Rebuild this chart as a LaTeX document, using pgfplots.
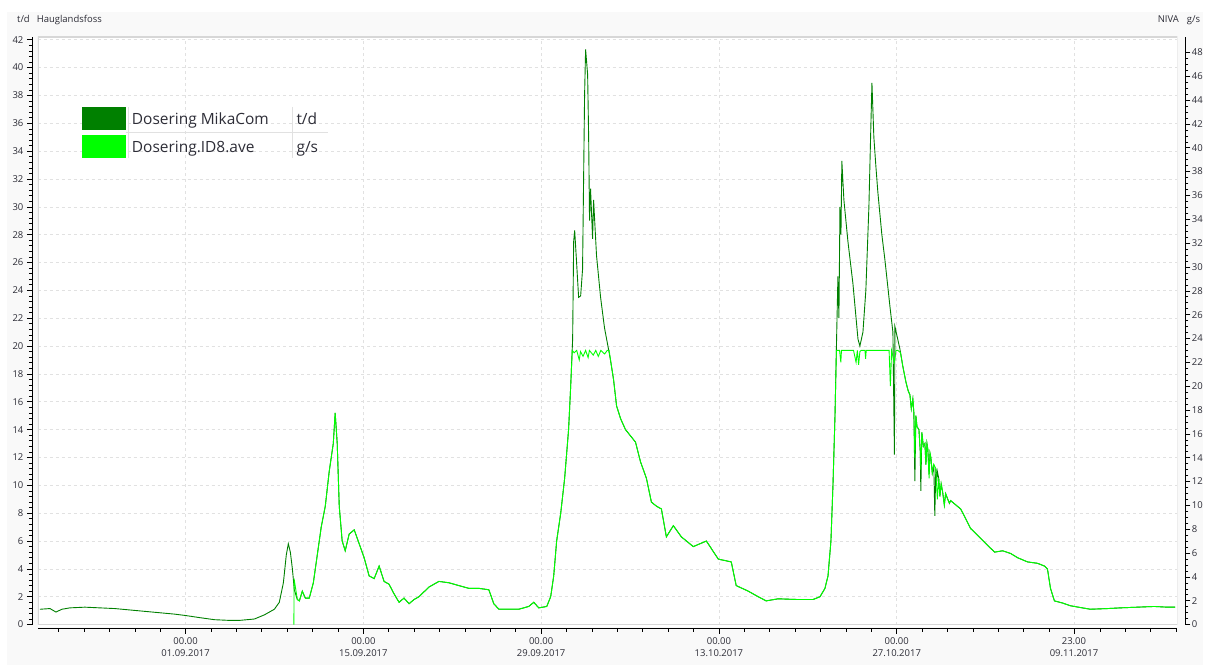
\documentclass[border=0pt]{standalone}
\usepackage{pgfplots}
\pgfplotsset{compat=1.18}
\usepackage{fontspec}
\setmainfont{Open Sans}
\definecolor{dgreen}{RGB}{0,128,0}
\definecolor{lgreen}{RGB}{0,255,0}
\definecolor{panel}{RGB}{249,249,249}
\definecolor{framegray}{RGB}{215,215,215}
\definecolor{gridgray}{RGB}{225,225,225}
\definecolor{txt}{RGB}{45,45,55}
\begin{document}
\begin{tikzpicture}[x=1pt,y=1pt]
\fill[white] (0,0) rectangle (1206,667);
\fill[panel] (7,0) rectangle (1206,655);
\fill[white] (38,39) rectangle (1180,630);
\node[anchor=base west,font=\fontsize{9.5}{11}\selectfont,text=txt,inner sep=0] at (17,644) {t/d\hspace{7pt}Hauglandsfoss};
\node[anchor=base east,font=\fontsize{9.5}{11}\selectfont,text=txt,inner sep=0] at (1203,644) {NIVA\hspace{8pt}g/s};
\begin{axis}[at={(38pt,41pt)},anchor=south west,scale only axis,
  width=1142pt,height=589pt,
  xmin=-11.63,xmax=78.1,ymin=0,ymax=42.2,
  axis x line*=bottom, axis y line*=left,
  axis x line shift=4pt, axis y line shift=6pt,
  axis line style={-,black,line width=0.6pt},
  xtick={0,14,28,42,56,69.96},
  xticklabels={{00.00\\01.09.2017},{00.00\\15.09.2017},{00.00\\29.09.2017},{00.00\\13.10.2017},{00.00\\27.10.2017},{23.00\\09.11.2017}},
  minor xtick={-10,-8,...,78},
  ytick={0,2,...,42},
  minor y tick num=4,
  tick align=outside,
  major tick length=5pt, minor tick length=3pt,
  tick style={black,line width=0.6pt},
  xmajorgrids, ymajorgrids,
  major grid style={gridgray,dashed,line width=0.6pt},
  /pgf/number format/assume math mode=true,
  ticklabel style={font=\fontsize{9.5}{11.5}\selectfont,text=txt},
  xticklabel style={align=center,yshift=-1pt},
  clip=true,
]
\draw[framegray,line width=1.2pt] (rel axis cs:0,0) rectangle (rel axis cs:1,1);
\addplot[dgreen,line width=0.9pt] coordinates {
(-11.47,1.1)(-10.68,1.15)(-10.21,0.9)(-9.74,1.1)(-9.11,1.2)(-7.93,1.25)(-6.76,1.2)(-5.58,1.15)(-4.40,1.05)(-3.22,0.95)(-2.04,0.85)(-0.86,0.75)(0,0.65)(1.10,0.5)(2.28,0.35)(3.46,0.3)(4.24,0.3)(5.42,0.4)(6.21,0.7)(6.99,1.1)(7.38,1.6)(7.70,3.0)(7.93,5.0)(8.09,5.8)(8.25,5.2)(8.41,4.0)(8.56,2.5)(8.80,1.8)(8.96,1.7)(9.19,2.4)(9.43,1.9)(9.74,1.9)(10.06,3.0)(10.37,5.0)(10.68,7.0)(11.00,8.5)(11.31,11.0)(11.63,13.0)(11.78,15.2)(11.94,13.0)(12.10,8.5)(12.33,6.0)(12.57,5.3)(12.88,6.5)(13.28,6.8)(13.67,5.8)(14.06,4.8)(14.45,3.5)(14.85,3.3)(15.24,4.2)(15.63,3.1)(16.02,2.9)(16.42,2.2)(16.81,1.6)(17.20,1.9)(17.60,1.5)(17.99,1.8)(18.38,2.0)(19.17,2.7)(19.95,3.1)(20.74,3.0)(21.52,2.8)(22.31,2.6)(23.10,2.6)(23.88,2.5)(24.27,1.5)(24.67,1.1)(25.45,1.1)(26.24,1.1)(27.02,1.3)(27.42,1.6)(27.81,1.2)(28.44,1.3)(28.75,2.0)(28.99,3.5)(29.22,6.0)(29.54,8.0)(29.85,10.5)(30.16,14.0)(30.32,17.0)(30.48,20.5)(30.56,27.5)(30.64,28.3)(30.79,26.0)(30.95,23.5)(31.11,23.6)(31.26,25.5)(31.42,38.0)(31.50,41.3)(31.66,39.5)(31.74,35.0)(31.81,29.0)(31.89,31.3)(32.05,27.7)(32.13,30.5)(32.21,29.1)(32.36,26.5)(32.68,23.5)(32.99,21.3)(33.30,19.8)(33.46,19.0)(33.70,17.6)(33.94,15.7)(34.25,14.8)(34.64,14.0)(35.43,13.1)(35.82,11.7)(36.29,10.5)(36.68,8.8)(37.08,8.5)(37.47,8.3)(37.86,6.3)(38.41,7.1)(39.04,6.3)(39.98,5.6)(41.01,6.0)(41.95,4.7)(42.97,4.5)(43.36,2.8)(44.31,2.4)(45.09,2.0)(45.72,1.7)(46.66,1.85)(48.23,1.8)(49.41,1.8)(49.96,2.0)(50.35,2.6)(50.59,3.5)(50.82,6.0)(50.98,10.0)(51.14,15.0)(51.30,22.0)(51.37,25.0)(51.45,22.0)(51.53,30.0)(51.61,28.0)(51.68,33.3)(51.84,30.5)(52.16,27.5)(52.55,24.5)(52.95,20.5)(53.10,20.0)(53.34,21.0)(53.57,24.0)(53.81,30.0)(53.97,36.0)(54.05,38.9)(54.20,35.0)(54.36,32.9)(54.52,31.0)(54.83,28.0)(55.07,26.2)(55.46,22.9)(55.70,21.0)(55.82,12.2)(55.86,21.4)(56.25,19.8)(56.49,18.5)(56.73,17.4)(56.9,16.8)(57.04,16.5)(57.15,15.5)(57.27,16.2)(57.35,15.2)(57.43,10.3)(57.51,15.0)(57.6,14.2)(57.75,14.0)(57.85,12.5)(57.90,9.6)(57.98,13.8)(58.1,12.8)(58.22,13.0)(58.3,11.5)(58.38,13.0)(58.45,12.6)(58.55,10.8)(58.62,12.3)(58.69,12.0)(58.8,10.9)(58.92,11.5)(59.00,7.8)(59.08,11.2)(59.15,10.2)(59.2,11.0)(59.31,10.5)(59.4,9.2)(59.5,10.1)(59.62,9.5)(59.75,8.6)(59.85,9.4)(60.02,9.0)(60.15,8.7)(60.25,8.9)(60.64,8.6)(61.04,8.3)(61.43,7.6)(61.82,6.9)(62.37,6.4)(62.92,5.9)(63.71,5.2)(64.34,5.3)(64.98,5.1)(65.52,4.8)(66.30,4.5)(67.09,4.4)(67.64,4.2)(67.87,4.0)(68.11,2.6)(68.42,1.7)(69.05,1.55)(69.68,1.35)(70.62,1.2)(71.25,1.1)(72.58,1.15)(73.61,1.2)(74.94,1.25)(76.28,1.3)(77.30,1.25)(77.93,1.25)
};
\end{axis}
\begin{axis}[at={(38pt,41pt)},anchor=south west,scale only axis,
  width=1142pt,height=589pt,
  xmin=-11.63,xmax=78.1,ymin=0,ymax=49.3,
  axis x line=none, axis y line*=right,
  axis y line shift=8pt,
  axis line style={-,black,line width=0.6pt},
  ytick={0,2,...,48},
  minor y tick num=3,
  tick align=outside,
  major tick length=5pt, minor tick length=3pt,
  tick style={black,line width=0.6pt},
  /pgf/number format/assume math mode=true,
  ticklabel style={font=\fontsize{9.5}{11.5}\selectfont,text=txt},
  yticklabel style={xshift=-2pt},
  clip=true,
]
\addplot[lgreen,line width=0.9pt] coordinates {
(8.53,0)(8.54,3.86)(8.80,2.10)(8.96,1.99)(9.19,2.80)(9.43,2.22)(9.74,2.22)(10.06,3.51)(10.37,5.84)(10.68,8.18)(11.00,9.93)(11.31,12.85)(11.63,15.19)(11.78,17.76)(11.94,15.19)(12.10,9.93)(12.33,7.01)(12.57,6.19)(12.88,7.59)(13.28,7.95)(13.67,6.78)(14.06,5.61)(14.45,4.09)(14.85,3.86)(15.24,4.91)(15.63,3.62)(16.02,3.39)(16.42,2.57)(16.81,1.87)(17.20,2.22)(17.60,1.75)(17.99,2.10)(18.38,2.34)(19.17,3.15)(19.95,3.62)(20.74,3.51)(21.52,3.27)(22.31,3.04)(23.10,3.04)(23.88,2.92)(24.27,1.75)(24.67,1.29)(25.45,1.29)(26.24,1.29)(27.02,1.52)(27.42,1.87)(27.81,1.40)(28.44,1.52)(28.75,2.34)(28.99,4.09)(29.22,7.01)(29.54,9.35)(29.85,12.27)(30.16,16.36)(30.32,19.86)(30.45,23.0)(30.6,22.8)(30.8,23.0)(31.0,22.2)(31.1,22.9)(31.3,22.5)(31.5,23.0)(31.7,22.4)(31.8,23.0)(32.1,22.6)(32.3,23.0)(32.5,22.5)(32.7,23.0)(33.0,22.7)(33.2,23.0)(33.35,23.0)(33.46,22.2)(33.70,20.56)(33.94,18.34)(34.25,17.29)(34.64,16.36)(35.43,15.31)(35.82,13.67)(36.29,12.27)(36.68,10.28)(37.08,9.93)(37.47,9.70)(37.86,7.36)(38.41,8.30)(39.04,7.36)(39.98,6.54)(41.01,7.01)(41.95,5.49)(42.97,5.26)(43.36,3.27)(44.31,2.80)(45.09,2.34)(45.72,1.99)(46.66,2.16)(48.23,2.10)(49.41,2.10)(49.96,2.34)(50.35,3.04)(50.59,4.09)(50.82,7.01)(50.98,11.68)(51.14,17.53)(51.25,23.0)(51.5,23.0)(51.6,22.0)(51.65,23.0)(52.6,23.0)(52.8,22.0)(52.9,23.0)(53.0,21.8)(53.1,22.9)(53.2,23.0)(53.5,23.0)(53.55,22.3)(53.6,23.0)(55.4,23.0)(55.5,20.0)(55.6,23.0)(55.8,22.0)(55.95,23.0)(56.1,23.0)(56.3,22.8)(56.49,21.62)(56.73,20.33)(56.9,19.6)(57.04,19.28)(57.15,18.1)(57.27,18.93)(57.35,17.8)(57.43,14.0)(57.51,17.53)(57.6,16.6)(57.75,16.36)(57.85,14.6)(57.9,13.0)(57.98,16.12)(58.1,14.95)(58.22,15.19)(58.3,13.4)(58.38,15.2)(58.45,14.72)(58.55,12.27)(58.62,14.4)(58.69,14.02)(58.8,12.7)(58.92,13.44)(59.08,13.09)(59.2,10.5)(59.31,12.27)(59.4,10.75)(59.5,11.8)(59.62,11.10)(59.75,10.0)(59.85,11.0)(60.02,10.52)(60.15,10.2)(60.25,10.40)(60.64,10.05)(61.04,9.70)(61.43,8.88)(61.82,8.06)(62.37,7.48)(62.92,6.89)(63.71,6.08)(64.34,6.19)(64.98,5.96)(65.52,5.61)(66.30,5.26)(67.09,5.14)(67.64,4.91)(67.87,4.67)(68.11,3.04)(68.42,1.99)(69.05,1.81)(69.68,1.58)(70.62,1.40)(71.25,1.29)(72.58,1.34)(73.61,1.40)(74.94,1.46)(76.28,1.52)(77.30,1.46)(77.93,1.46)
};
\end{axis}
% legend
\fill[dgreen] (82,537) rectangle (126,560);
\fill[lgreen] (82,509) rectangle (126,532);
\draw[gridgray,line width=0.8pt] (128.5,560) -- (128.5,509);
\draw[gridgray,line width=0.8pt] (293,560) -- (293,509);
\draw[gridgray,line width=0.8pt] (126,534.5) -- (329,534.5);
\node[anchor=base west,font=\fontsize{15.5}{18}\selectfont,text=txt,inner sep=0] at (132,542) {Dosering MikaCom};
\node[anchor=base west,font=\fontsize{15.5}{18}\selectfont,text=txt,inner sep=0] at (132,514) {Dosering.ID8.ave};
\node[anchor=base west,font=\fontsize{15.5}{18}\selectfont,text=txt,inner sep=0] at (297,542) {t/d};
\node[anchor=base west,font=\fontsize{15.5}{18}\selectfont,text=txt,inner sep=0] at (297,514) {g/s};
\end{tikzpicture}
\end{document}
